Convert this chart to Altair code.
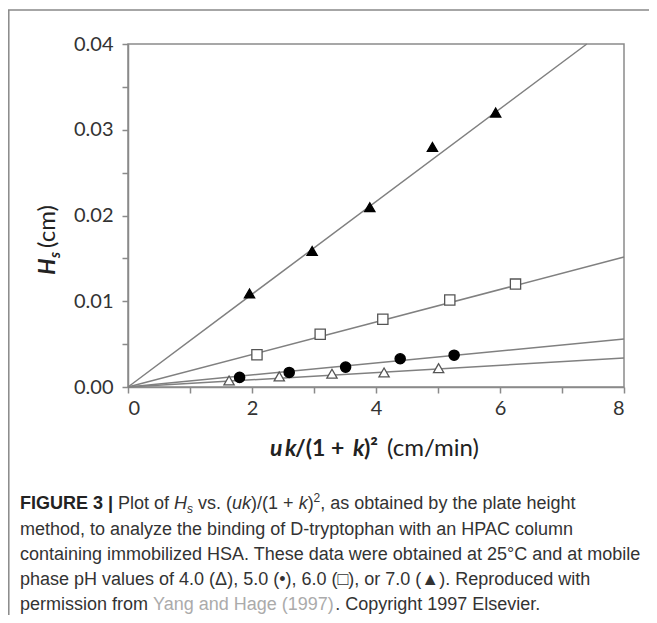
import altair as alt
import pandas as pd

# ---- data ----
series = ["4.0", "5.0", "6.0", "7.0"]
x_ph4 = [1.63, 2.44, 3.29, 4.13, 5.01]
y_ph4 = [0.00077, 0.00124, 0.00155, 0.00170, 0.00220]
x_ph5 = [1.80, 2.60, 3.51, 4.39, 5.26]
y_ph5 = [0.00112, 0.00170, 0.00232, 0.00329, 0.00371]
x_ph6 = [2.08, 3.10, 4.11, 5.19, 6.25]
y_ph6 = [0.00375, 0.00615, 0.00789, 0.01014, 0.01200]
x_ph7 = [1.96, 2.97, 3.90, 4.91, 5.93]
y_ph7 = [0.01091, 0.01586, 0.02097, 0.02800, 0.03200]

# fitted lines: start and end points
fit_x0 = [0, 0, 0, 0]
fit_y0 = [0, 0, 0, 0]
fit_x1 = [8, 8, 8, 7.40]
fit_y1 = [0.00337, 0.00561, 0.01516, 0.04000]

x_ticks = [0, 1, 2, 3, 4, 5, 6, 7, 8]
y_ticks = [0, 0.005, 0.01, 0.015, 0.02, 0.025, 0.03, 0.035, 0.04]

shapes = ["triangle-up", "circle", "square", "triangle-up"]
fills = ["white", "black", "white", "black"]
strokes = ["#555555", "black", "#555555", "black"]
sizes = [105, 105, 95, 135]

xs = [x_ph4, x_ph5, x_ph6, x_ph7]
ys = [y_ph4, y_ph5, y_ph6, y_ph7]
pts = pd.DataFrame(
    [{"ph": s, "x": a, "y": b} for s, xx, yy in zip(series, xs, ys) for a, b in zip(xx, yy)]
)
fits = pd.DataFrame(
    [{"ph": s, "x": x0, "y": y0} for s, x0, y0 in zip(series, fit_x0, fit_y0)]
    + [{"ph": s, "x": x1, "y": y1} for s, x1, y1 in zip(series, fit_x1, fit_y1)]
)

AX_GRAY = "#8a8a8a"
xscale = alt.Scale(domain=[0, 8], nice=False, zero=False)
yscale = alt.Scale(domain=[0, 0.04], nice=False, zero=False)

xaxis = alt.Axis(
    values=x_ticks, title=None, grid=False,
    labelExpr="datum.value % 2 === 0 ? format(datum.value, 'd') : ''",
    labelFont="Lato", labelFontSize=20, labelColor="#333333",
    labelPadding=5, tickSize=6, tickColor=AX_GRAY, tickWidth=1.5,
    domainColor=AX_GRAY, domainWidth=1.5,
)
yaxis = alt.Axis(
    values=y_ticks, title=None, grid=False,
    labelExpr="round(datum.value * 200) % 2 === 0 ? format(datum.value, '.2f') : ''",
    labelFont="Lato", labelFontSize=20, labelColor="#333333",
    labelPadding=9, tickSize=6, tickColor=AX_GRAY, tickWidth=1.5,
    domainColor=AX_GRAY, domainWidth=1.5,
)

lines = alt.Chart(fits).mark_line(color="#808080", strokeWidth=1.5).encode(
    x=alt.X("x:Q", scale=xscale, axis=xaxis),
    y=alt.Y("y:Q", scale=yscale, axis=yaxis),
    detail="ph:N",
)

points = alt.Chart(pts).mark_point(filled=True, opacity=1, strokeWidth=1.3).encode(
    x="x:Q",
    y="y:Q",
    shape=alt.Shape("ph:N", scale=alt.Scale(domain=series, range=shapes), legend=None),
    fill=alt.Fill("ph:N", scale=alt.Scale(domain=series, range=fills), legend=None),
    stroke=alt.Stroke("ph:N", scale=alt.Scale(domain=series, range=strokes), legend=None),
    size=alt.Size("ph:N", scale=alt.Scale(domain=series, range=sizes), legend=None),
)

# ---- text layout helpers (Arial / Liberation Sans advance widths, 1/1000 em) ----
W_REG = {" ": 278, "(": 333, ")": 333, "+": 584, ",": 278, "-": 333, ".": 278, "/": 278,
         "|": 260, "\u00b0": 400, "\u00b2": 333}
for c in "0123456789":
    W_REG[c] = 556
W_REG.update(dict(zip("ABCDEFGHIJKLMNOPQRSTUVWXYZ",
                      [667, 667, 722, 722, 667, 611, 778, 722, 278, 500, 667, 556, 833,
                       722, 778, 667, 778, 722, 667, 611, 722, 667, 944, 667, 667, 611])))
W_REG.update(dict(zip("abcdefghijklmnopqrstuvwxyz",
                      [556, 556, 500, 556, 556, 278, 556, 556, 222, 222, 500, 222, 833,
                       556, 556, 556, 556, 333, 500, 278, 556, 500, 722, 500, 500, 500])))
W_BOLD = dict(W_REG)
W_BOLD.update({"|": 280, "F": 611, "I": 278, "G": 778, "U": 722, "R": 722, "E": 667})


def text_width(t, size, bold=False):
    table = W_BOLD if bold else W_REG
    return sum(table.get(ch, 556) for ch in t) * size / 1000.0


def seg(text, x, y, font="Liberation Sans", size=18, weight="normal", style="normal",
        color="#333333", angle=0):
    kw = dict(align="left", baseline="alphabetic", font=font, fontSize=size,
              fontWeight=weight, fontStyle=style, color=color)
    if angle:
        kw["angle"] = angle
    return alt.Chart(pd.DataFrame({"t": [text]})).mark_text(**kw).encode(
        x=alt.value(x), y=alt.value(y), text="t:N"
    )


def run(pieces, x0, y0):
    """pieces: (text, size, bold, italic, color, dy); laid out left to right."""
    out = []
    x = x0
    for t, size, bold, italic, color, dy in pieces:
        lead = len(t) - len(t.lstrip(" "))
        shown = t.strip(" ")
        out.append(seg(shown, x + text_width(" " * lead, size, bold), y0 + dy, size=size,
                       weight="bold" if bold else "normal",
                       style="italic" if italic else "normal", color=color))
        x += text_width(t, size, bold)
    return out


CS = 18          # caption font size
CC = "#333333"   # caption colour
LINK = "#ababab"
CX = -108        # caption left edge (plot-relative)
BASE = [465, 490.5, 516, 541, 566]

caption = []
caption += run([
    ("FIGURE 3 |", CS, True, False, "#222222", 0),
    (" Plot of ", CS, False, False, CC, 0),
    ("H", CS, False, True, CC, 0),
    ("s", 12, False, True, CC, 4),
    (" vs. (", CS, False, False, CC, 0),
    ("uk", CS, False, True, CC, 0),
    (")/(1 + ", CS, False, False, CC, 0),
    ("k", CS, False, True, CC, 0),
    (")", CS, False, False, CC, 0),
    ("2", 12, False, False, CC, -7),
    (", as obtained by the plate height", CS, False, False, CC, 0),
], CX, BASE[0])
caption.append(seg("method, to analyze the binding of D-tryptophan with an HPAC column", CX, BASE[1]))
caption.append(seg("containing immobilized HSA. These data were obtained at 25\u00b0C and at mobile", CX, BASE[2]))
caption.append(seg("phase pH values of 4.0 (\u0394), 5.0 (\u2022), 6.0 (\u25a1), or 7.0 (\u25b2). Reproduced with", CX, BASE[3]))
caption += run([
    ("permission from ", CS, False, False, CC, 0),
    ("Yang and Hage (1997)", CS, False, False, LINK, 0),
    (". Copyright 1997 Elsevier.", CS, False, False, CC, 0),
], CX, BASE[4])

TF = "Lato"
titles = [
    # x-axis title
    seg("u", 142, 412, font=TF, size=23, weight="bold", style="italic", color="#222"),
    seg("k", 157, 412, font=TF, size=23, weight="bold", style="italic", color="#222"),
    seg("/(1 +", 167, 412, font=TF, size=23, weight="bold", color="#222"),
    seg("k", 225, 412, font=TF, size=23, weight="bold", style="italic", color="#222"),
    seg(")\u00b2", 236, 412, font=TF, size=23, weight="bold", color="#222"),
    seg("(cm/min)", 259, 412, font=TF, size=24, color="#222"),
    # y-axis title (rotated)
    seg("H", -73, 231, font=TF, size=23, weight="bold", style="italic", color="#222", angle=270),
    seg("s", -68, 214, font=TF, size=15, weight="bold", style="italic", color="#222", angle=270),
    seg("(cm)", -73, 204, font=TF, size=24, color="#222", angle=270),
]

# outer figure frame (left and top rules)
frame_left = alt.Chart(pd.DataFrame({"a": [0]})).mark_rule(color="#888888", strokeWidth=1.5).encode(
    x=alt.value(-119.2), y=alt.value(-34), y2=alt.value(571)
)
frame_top = alt.Chart(pd.DataFrame({"a": [0]})).mark_rule(color="#888888", strokeWidth=1.5).encode(
    x=alt.value(-120), x2=alt.value(521), y=alt.value(-34)
)

chart = alt.layer(lines, points, frame_left, frame_top, *titles, *caption).properties(
    width=496,
    height=343,
    padding={"left": 120, "top": 36, "right": 25, "bottom": 228},
    autosize=alt.AutoSizeParams(type="none"),
).configure_view(stroke=AX_GRAY, strokeWidth=1.5)

chart.save("out.html", embed_options={"renderer": "svg", "actions": False})
